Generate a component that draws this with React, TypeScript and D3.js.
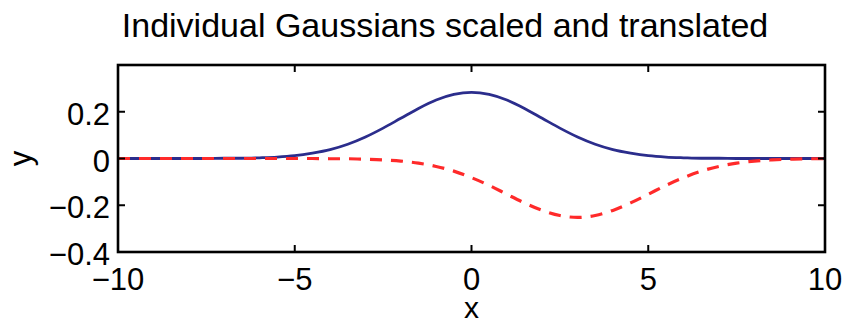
import React from "react";
import * as d3 from "d3";

// x samples (step 0.5) and values
const xs: number[] = [
  -10, -9.5, -9, -8.5, -8, -7.5, -7, -6.5, -6, -5.5, -5, -4.5, -4, -3.5, -3, -2.5, -2, -1.5, -1, -0.5,
  0, 0.5, 1, 1.5, 2, 2.5, 3, 3.5, 4, 4.5, 5, 5.5, 6, 6.5, 7, 7.5, 8, 8.5, 9, 9.5, 10,
];
const blueY: number[] = [
  0, 0, 0, 0, 0, 0, 0.001, 0.001, 0.003, 0.006, 0.012, 0.023, 0.038, 0.061, 0.092, 0.13, 0.172, 0.214, 0.25, 0.274,
  0.283, 0.274, 0.25, 0.214, 0.172, 0.13, 0.092, 0.061, 0.038, 0.023, 0.012, 0.006, 0.003, 0.001, 0.001, 0, 0, 0, 0, 0, 0,
];
const redY: number[] = [
  0, 0, 0, 0, 0, 0, 0, 0, 0, 0, 0, 0, -0.001, -0.001, -0.003, -0.006, -0.011, -0.02, -0.034, -0.054,
  -0.082, -0.115, -0.153, -0.19, -0.222, -0.244, -0.252, -0.244, -0.222, -0.19, -0.153, -0.115, -0.082, -0.054, -0.034, -0.02, -0.011, -0.006, -0.003, -0.001, -0.001,
];

const xTicks: number[] = [-10, -5, 0, 5, 10];
const xTickLabels: string[] = ["\u221210", "\u22125", "0", "5", "10"];
const yTicks: number[] = [-0.4, -0.2, 0, 0.2];
const yTickLabels: string[] = ["\u22120.4", "\u22120.2", "0", "0.2"];
const titleText = "Individual Gaussians scaled and translated";
const xLabel = "x";
const yLabel = "y";

const W = 843;
const H = 324;
const L = 118, R = 825, T = 65, B = 252;
const FONT = "'Liberation Sans', Arial, Helvetica, sans-serif";

export default function App() {
  const x = d3.scaleLinear().domain([-10, 10]).range([L, R]);
  const y = d3.scaleLinear().domain([-0.4, 0.4]).range([B, T]);
  const line = d3
    .line<number>()
    .x((_, i) => x(xs[i]))
    .y((d) => y(d))
    .curve(d3.curveMonotoneX);
  const tick = 7;
  return (
    <svg
      width={W}
      height={H}
      style={{ position: "absolute", left: 0, top: 0, background: "#fff" }}
      fontFamily={FONT}
    >
      <rect x={0} y={0} width={W} height={H} fill="#fff" />
      <defs>
        <clipPath id="plotclip">
          <rect x={L} y={T} width={R - L} height={B - T} />
        </clipPath>
      </defs>
      <g clipPath="url(#plotclip)">
        <path d={line(blueY) || ""} fill="none" stroke="#2b2d8c" strokeWidth={2.8} />
        <path
          d={line(redY) || ""}
          fill="none"
          stroke="#ff2a2a"
          strokeWidth={3.2}
          strokeDasharray="12,9"
        />
      </g>
      {/* ticks */}
      {xTicks.map((v) => (
        <g key={"xt" + v}>
          <line x1={x(v)} x2={x(v)} y1={B} y2={B - tick} stroke="#000" strokeWidth={2} />
          <line x1={x(v)} x2={x(v)} y1={T} y2={T + tick} stroke="#000" strokeWidth={2} />
        </g>
      ))}
      {yTicks.map((v) => (
        <g key={"yt" + v}>
          <line x1={L} x2={L + tick} y1={y(v)} y2={y(v)} stroke="#000" strokeWidth={2} />
          <line x1={R} x2={R - tick} y1={y(v)} y2={y(v)} stroke="#000" strokeWidth={2} />
        </g>
      ))}
      <rect x={L} y={T} width={R - L} height={B - T} fill="none" stroke="#000" strokeWidth={2.6} />
      {/* tick labels */}
      {xTicks.map((v, i) => (
        <text key={"xl" + v} x={x(v)} y={B + 38} fontSize={31} textAnchor="middle" fill="#000">
          {xTickLabels[i]}
        </text>
      ))}
      {yTicks.map((v, i) => (
        <text key={"yl" + v} x={L - 8} y={y(v) + 13} fontSize={31} textAnchor="end" fill="#000">
          {yTickLabels[i]}
        </text>
      ))}
      <text x={445} y={37} fontSize={34} textAnchor="middle" fill="#000">
        {titleText}
      </text>
      <text x={(L + R) / 2} y={318} fontSize={30} textAnchor="middle" fill="#000">
        {xLabel}
      </text>
      <text
        transform={`translate(31,${(T + B) / 2}) rotate(-90)`}
        fontSize={31}
        textAnchor="middle"
        fill="#000"
      >
        {yLabel}
      </text>
    </svg>
  );
}
